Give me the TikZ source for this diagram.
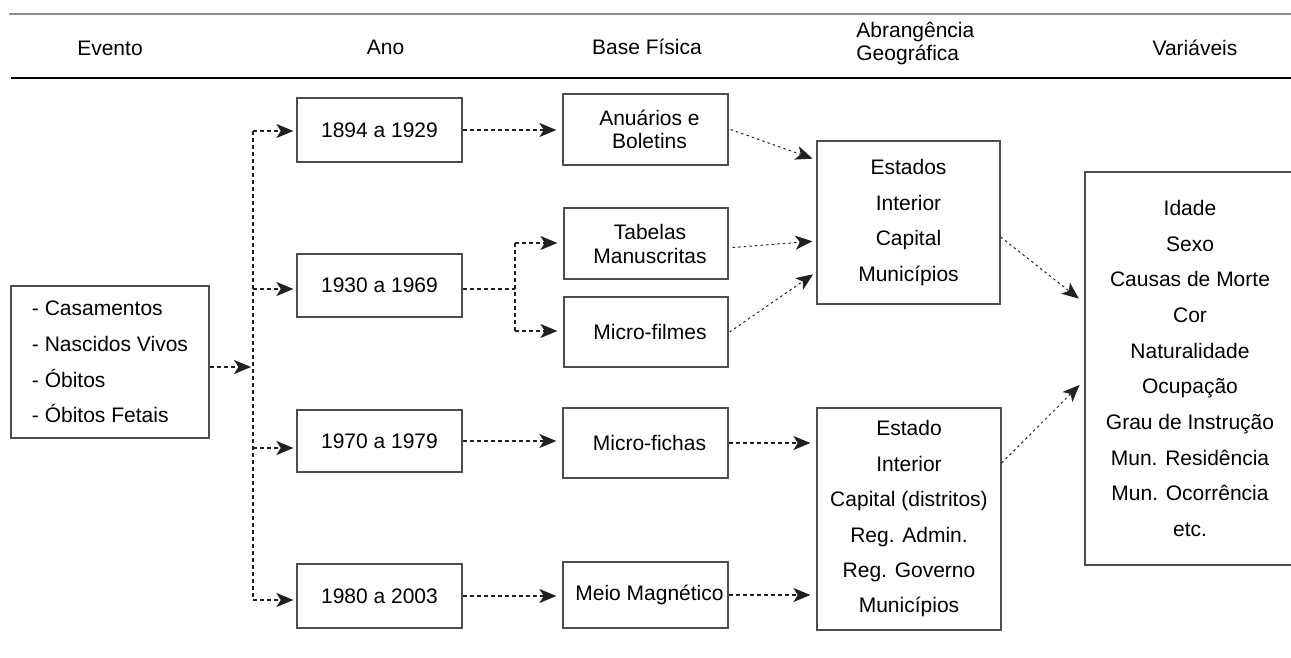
\documentclass[tikz,border=0pt]{standalone}
\usepackage{fontspec}
\setmainfont{Liberation Sans}
\usetikzlibrary{arrows.meta,calc}
\definecolor{ink}{HTML}{231F20}
\definecolor{boxgray}{HTML}{4D4D4D}
\definecolor{rulegray}{HTML}{8C8C8C}
\newcommand{\shft}{\hspace*{4pt}}
\begin{document}
\begin{tikzpicture}[x=0.5pt,y=-0.5pt,
  txt/.style={font=\fontsize{10.5}{12.6}\selectfont, text=black},
  box/.style={draw=boxgray, line width=0.6pt, rectangle, inner sep=0pt, txt, align=center},
  tip/.style={-{Stealth[length=8.5pt,width=7pt,inset=2.2pt]}},
  dline/.style={draw=ink, line width=0.9pt, dash pattern=on 2pt off 1.5pt},
  conn/.style={dline, tip, shorten >=2pt},
  diag/.style={draw=ink, line width=0.5pt, dash pattern=on 1.2pt off 1.6pt, tip, shorten >=2pt},
  hdr/.style={txt, inner sep=0pt}]
\useasboundingbox (0,0) rectangle (1291,658);

% header rules
\draw[rulegray, line width=1pt] (9,14) -- (1291,14);
\draw[black, line width=0.65pt] (11,78) -- (1291,78);

% headers
\node[hdr] (hev) at (110,48) {Evento};
\node[hdr] (hano) at (385.5,47) {Ano};
\node[hdr] (hbase) at (647,47) {Base Física};
\node[hdr, align=left, anchor=west, font=\fontsize{10.5}{11.5}\selectfont] (habr) at (856,44) {Abrangência\\Geográfica};
\node[hdr] (hvar) at (1195,48) {Variáveis};

% boxes
\node[box, minimum width=99pt, minimum height=76pt, align=left,
      font=\fontsize{10.5}{17.85}\selectfont] (ev) at (110,362)
      {- Casamentos\\- Nascidos Vivos\\- Óbitos\\- Óbitos Fetais};

\node[box, minimum width=82.5pt, minimum height=32pt] (y1) at (379.5,130) {1894 a 1929};
\node[box, minimum width=82.5pt, minimum height=31.5pt] (y2) at (379.5,285.5) {1930 a 1969};
\node[box, minimum width=82.5pt, minimum height=31pt] (y3) at (379.5,441) {1970 a 1979};
\node[box, minimum width=82.5pt, minimum height=32pt] (y4) at (379.5,596) {1980 a 2003};

\node[box, minimum width=82.5pt, minimum height=35.5pt, font=\fontsize{10.5}{11.5}\selectfont] (anu) at (645.5,129.5) {\shft Anuários e\\\shft Boletins};
\node[box, minimum width=82pt, minimum height=35.5pt, font=\fontsize{10.5}{12}\selectfont] (tab) at (646,243.5) {\shft Tabelas\\\shft Manuscritas};
\node[box, minimum width=82pt, minimum height=35pt] (mfil) at (646,332) {\shft Micro-filmes};
\node[box, minimum width=82.5pt, minimum height=35pt] (mfic) at (645.5,443) {\shft Micro-fichas};
\node[box, minimum width=82.5pt, minimum height=33pt] (meio) at (645.5,595) {\shft Meio Magnético};

\node[box, minimum width=91.5pt, minimum height=81.5pt, font=\fontsize{10.5}{17.85}\selectfont] (est1) at (908.5,222.5)
      {Estados\\Interior\\Capital\\Municípios};
\node[box, minimum width=92pt, minimum height=111pt, font=\fontsize{10.5}{17.7}\selectfont] (est2) at (909,519)
      {Estado\\Interior\\Capital (distritos)\\Reg. Admin.\\Reg. Governo\\Municípios};
\node[box, minimum width=105pt, minimum height=196.5pt, font=\fontsize{10.5}{17.85}\selectfont] (var) at (1190,368.5)
      {Idade\\Sexo\\Causas de Morte\\Cor\\Naturalidade\\Ocupação\\Grau de Instrução\\Mun. Residência\\Mun. Ocorrência\\etc.};

% junctions
\coordinate (j) at (253,367);
\coordinate (vt) at (253,131);
\coordinate (vb) at (253,600);
\coordinate (b2) at (253,289);
\coordinate (b3) at (253,448);
\coordinate (s) at (515,289);
\coordinate (sa) at (515,243);
\coordinate (sb) at (515,331);

% connectors
\draw[conn, shorten >=1pt] (ev.east |- j) -- (j);
\draw[dline] (vt) -- (vb);
\draw[conn, shorten >=1.5pt] (vt) -- (vt -| y1.west);
\draw[conn, shorten >=1.5pt] (b2) -- (b2 -| y2.west);
\draw[conn, shorten >=1.5pt] (b3) -- (b3 -| y3.west);
\draw[conn, shorten >=1.5pt] (vb) -- (vb -| y4.west);

\draw[conn, shorten >=3pt] (y1.east) -- (y1.east -| anu.west);
\draw[dline] (y2.east |- s) -- (s);
\draw[dline] (sa) -- (sb);
\draw[conn, shorten >=3pt] (sa) -- (sa -| tab.west);
\draw[conn, shorten >=3pt] (sb) -- (sb -| mfil.west);
\draw[conn, shorten >=3pt] (y3.east) -- (y3.east -| mfic.west);
\draw[conn, shorten >=3pt] (y4.east) -- (y4.east -| meio.west);
\draw[conn, shorten >=3pt] (mfic.east) -- (mfic.east -| est2.west);
\draw[conn, shorten >=3pt] (meio.east) -- (meio.east -| est2.west);

\draw[diag] ([xshift=1pt]anu.east) -- ([yshift=31.25pt]est1.west);
\draw[diag] ([xshift=2pt,yshift=-2pt]tab.east) -- ([yshift=-9.25pt]est1.west);
\draw[diag] ([xshift=0.5pt]mfil.east) -- ([yshift=-24.75pt]est1.west);
\draw[diag, shorten >=3.5pt] ([yshift=-7.25pt]est1.east) -- ([yshift=32.75pt]var.west);
\draw[diag, shorten >=3.5pt] ([yshift=28pt]est2.east) -- ([yshift=-5.75pt]var.west);
\end{tikzpicture}
\end{document}
